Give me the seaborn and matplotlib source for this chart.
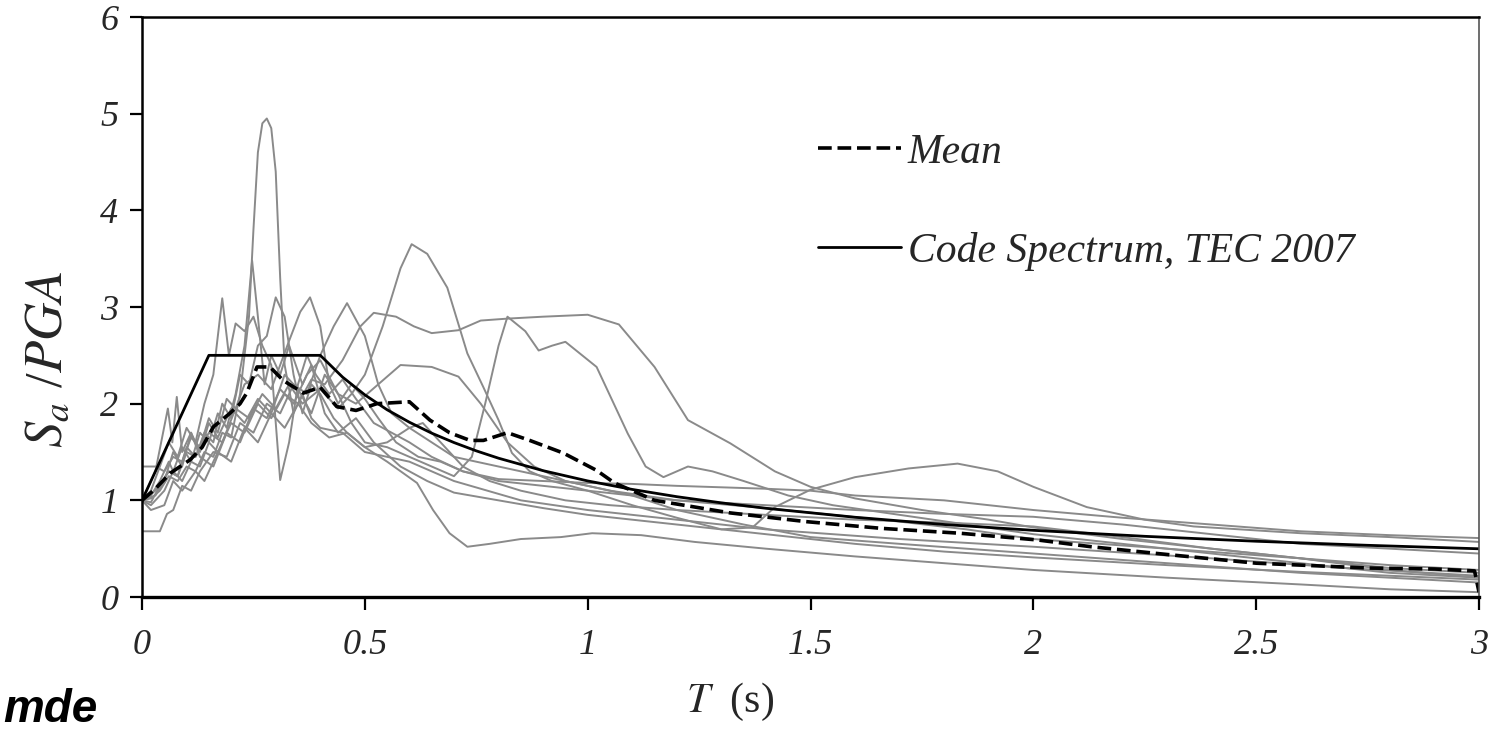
import numpy as np
import pandas as pd
import matplotlib
matplotlib.use("Agg")
import matplotlib.pyplot as plt
from matplotlib.lines import Line2D
import seaborn as sns

# ---------------- data ----------------
rec01 = [(0, 1.0), (0.02, 1.02), (0.04, 1.1), (0.06, 1.25), (0.08, 1.2), (0.10, 1.35), (0.12, 1.3),
         (0.14, 1.5), (0.16, 1.45), (0.18, 1.7), (0.20, 1.65), (0.22, 2.1), (0.24, 2.9), (0.25, 3.8),
         (0.26, 4.6), (0.27, 4.9), (0.28, 4.95), (0.29, 4.85), (0.30, 4.4), (0.31, 3.3), (0.32, 2.4),
         (0.34, 1.9), (0.36, 2.1), (0.38, 1.85), (0.40, 1.75), (0.45, 1.7), (0.5, 1.5), (0.6, 1.4),
         (0.7, 1.2), (0.85, 1.0), (1.0, 0.9), (1.2, 0.8), (1.4, 0.7), (1.7, 0.6), (2.0, 0.52),
         (2.4, 0.4), (2.7, 0.3), (3.0, 0.22)]
rec02 = [(0, 1.0), (0.02, 1.05), (0.04, 1.2), (0.06, 1.4), (0.07, 1.3), (0.09, 1.55), (0.11, 1.4),
         (0.13, 1.7), (0.15, 1.6), (0.17, 1.9), (0.19, 1.75), (0.21, 2.1), (0.23, 2.6), (0.247, 3.48),
         (0.26, 2.9), (0.275, 2.2), (0.29, 2.5), (0.31, 2.3), (0.33, 2.6), (0.36, 2.2), (0.38, 2.4),
         (0.41, 1.9), (0.44, 1.7), (0.48, 1.85), (0.52, 1.6), (0.58, 1.35), (0.64, 1.2), (0.7, 1.08),
         (0.8, 1.0), (0.9, 0.92), (1.0, 0.85), (1.2, 0.75), (1.4, 0.65), (1.6, 0.55), (1.8, 0.47),
         (2.0, 0.41), (2.3, 0.33), (2.6, 0.26), (3.0, 0.18)]
rec03 = [(0, 1.0), (0.02, 1.1), (0.04, 1.35), (0.06, 1.6), (0.08, 1.45), (0.10, 1.75), (0.12, 1.6),
         (0.14, 2.0), (0.16, 2.3), (0.18, 3.09), (0.195, 2.5), (0.21, 2.83), (0.23, 2.75), (0.25, 2.9),
         (0.27, 2.6), (0.29, 2.4), (0.31, 1.21), (0.33, 1.6), (0.35, 2.2), (0.37, 2.5), (0.39, 2.3),
         (0.42, 2.1), (0.45, 2.25), (0.48, 2.05), (0.52, 1.8), (0.56, 1.7), (0.6, 1.6), (0.65, 1.45),
         (0.72, 1.3), (0.8, 1.22), (0.9, 1.2), (1.0, 1.18), (1.1, 1.17), (1.2, 1.15), (1.4, 1.12),
         (1.5, 1.1), (1.6, 1.05), (1.8, 1.0), (2.0, 0.9), (2.2, 0.82), (2.4, 0.75), (2.6, 0.68),
         (2.8, 0.64), (3.0, 0.61)]
rec04 = [(0, 1.0), (0.02, 0.98), (0.04, 1.15), (0.06, 1.3), (0.08, 1.25), (0.10, 1.5), (0.12, 1.45),
         (0.14, 1.7), (0.16, 1.6), (0.18, 2.0), (0.20, 1.85), (0.22, 2.3), (0.24, 2.2), (0.26, 2.6),
         (0.28, 2.7), (0.30, 3.1), (0.32, 2.9), (0.34, 2.3), (0.36, 1.9), (0.38, 2.2), (0.40, 2.1),
         (0.43, 1.85), (0.46, 1.7), (0.5, 1.55), (0.55, 1.6), (0.6, 1.75), (0.63, 1.8), (0.67, 1.6),
         (0.72, 1.35), (0.78, 1.2), (0.85, 1.1), (0.95, 1.0), (1.05, 0.95), (1.2, 0.9), (1.4, 0.85),
         (1.6, 0.8), (1.8, 0.77), (2.0, 0.73), (2.2, 0.62), (2.4, 0.5), (2.6, 0.4), (2.8, 0.33),
         (3.0, 0.28)]
rec05 = [(0, 1.35), (0.03, 1.35), (0.05, 1.3), (0.07, 1.45), (0.09, 1.4), (0.11, 1.65), (0.13, 1.55),
         (0.15, 1.85), (0.17, 1.7), (0.19, 2.05), (0.21, 1.95), (0.23, 2.2), (0.26, 2.3), (0.29, 2.15),
         (0.31, 2.4), (0.33, 2.65), (0.355, 2.95), (0.377, 3.1), (0.40, 2.8), (0.42, 2.2), (0.44, 2.0),
         (0.47, 2.2), (0.5, 2.05), (0.53, 1.85), (0.57, 1.6), (0.62, 1.45), (0.67, 1.4), (0.72, 1.3),
         (0.8, 1.2), (0.9, 1.15), (1.0, 1.1), (1.1, 1.05), (1.2, 1.0), (1.4, 0.95), (1.6, 0.9),
         (1.8, 0.86), (2.0, 0.83), (2.2, 0.75), (2.4, 0.65), (2.6, 0.55), (2.8, 0.5), (3.0, 0.45)]
rec06 = [(0, 0.68), (0.04, 0.68), (0.056, 0.86), (0.07, 0.9), (0.09, 1.15), (0.11, 1.1), (0.13, 1.3),
         (0.16, 1.5), (0.19, 1.45), (0.22, 1.8), (0.25, 1.7), (0.28, 2.0), (0.31, 1.9), (0.34, 2.2),
         (0.37, 2.1), (0.40, 2.5), (0.43, 2.8), (0.46, 3.04), (0.5, 2.7), (0.53, 2.2), (0.56, 1.9),
         (0.6, 1.75), (0.65, 1.6), (0.7, 1.45), (0.75, 1.4), (0.8, 1.35), (0.9, 1.25), (1.0, 1.15),
         (1.1, 1.05), (1.2, 0.9), (1.35, 0.75), (1.5, 0.62), (1.7, 0.55), (2.0, 0.45), (2.3, 0.35),
         (2.6, 0.25), (3.0, 0.15)]
rec07 = [(0, 1.0), (0.03, 1.1), (0.06, 1.3), (0.08, 1.25), (0.10, 1.55), (0.12, 1.45), (0.15, 1.7),
         (0.18, 1.6), (0.21, 1.95), (0.24, 1.85), (0.27, 2.1), (0.30, 1.95), (0.33, 2.2), (0.36, 2.0),
         (0.40, 2.15), (0.44, 1.95), (0.47, 2.1), (0.5, 2.3), (0.54, 2.8), (0.58, 3.4), (0.605, 3.65),
         (0.64, 3.55), (0.685, 3.2), (0.73, 2.52), (0.766, 2.17), (0.8, 1.83), (0.83, 1.49),
         (0.87, 1.3), (0.92, 1.2), (1.0, 1.1), (1.1, 0.95), (1.2, 0.82), (1.3, 0.7), (1.37, 0.72),
         (1.42, 0.93), (1.5, 1.11), (1.6, 1.24), (1.72, 1.33), (1.83, 1.38), (1.92, 1.3), (2.0, 1.14),
         (2.12, 0.93), (2.25, 0.8), (2.36, 0.73), (2.6, 0.66), (2.8, 0.62), (3.0, 0.57)]
rec08 = [(0, 1.0), (0.02, 0.95), (0.05, 1.1), (0.07, 1.3), (0.09, 1.2), (0.11, 1.4), (0.13, 1.35),
         (0.15, 1.6), (0.17, 1.5), (0.20, 1.8), (0.23, 1.7), (0.26, 2.0), (0.29, 1.85), (0.32, 2.1),
         (0.35, 2.0), (0.38, 2.25), (0.41, 2.2), (0.45, 2.45), (0.49, 2.8), (0.52, 2.94), (0.57, 2.9),
         (0.61, 2.8), (0.65, 2.73), (0.71, 2.76), (0.76, 2.86), (0.82, 2.88), (0.9, 2.9), (1.0, 2.92),
         (1.07, 2.82), (1.15, 2.38), (1.225, 1.83), (1.32, 1.59), (1.42, 1.3), (1.5, 1.14),
         (1.6, 1.02), (1.75, 0.9), (1.9, 0.8), (2.0, 0.72), (2.2, 0.6), (2.4, 0.5), (2.6, 0.4),
         (2.8, 0.28), (3.0, 0.2)]
rec09 = [(0, 1.0), (0.03, 1.05), (0.05, 1.2), (0.07, 1.5), (0.09, 1.35), (0.11, 1.7), (0.13, 1.5),
         (0.15, 1.8), (0.17, 1.65), (0.20, 1.95), (0.23, 1.8), (0.26, 2.05), (0.29, 1.9), (0.32, 2.3),
         (0.35, 2.15), (0.38, 1.9), (0.41, 2.3), (0.44, 2.1), (0.47, 1.8), (0.5, 1.6), (0.55, 1.55),
         (0.6, 1.45), (0.65, 1.35), (0.7, 1.25), (0.74, 1.45), (0.77, 2.0), (0.8, 2.6), (0.82, 2.9),
         (0.86, 2.75), (0.89, 2.55), (0.92, 2.6), (0.95, 2.64), (1.02, 2.38), (1.09, 1.69),
         (1.13, 1.35), (1.17, 1.24), (1.225, 1.35), (1.28, 1.3), (1.35, 1.2), (1.45, 1.05),
         (1.55, 0.95), (1.7, 0.85), (1.85, 0.75), (2.0, 0.65), (2.2, 0.55), (2.4, 0.45), (2.6, 0.35),
         (2.8, 0.25), (3.0, 0.2)]
rec10 = [(0, 1.0), (0.02, 0.9), (0.05, 0.95), (0.07, 1.2), (0.09, 1.1), (0.12, 1.3), (0.14, 1.2),
         (0.17, 1.5), (0.20, 1.4), (0.23, 1.75), (0.26, 1.6), (0.29, 1.9), (0.32, 1.75), (0.35, 2.0),
         (0.38, 1.8), (0.42, 1.65), (0.46, 1.7), (0.5, 1.55), (0.55, 1.4), (0.617, 1.18), (0.653, 0.9),
         (0.69, 0.66), (0.73, 0.52), (0.78, 0.55), (0.85, 0.6), (0.94, 0.62), (1.01, 0.66),
         (1.12, 0.64), (1.24, 0.57), (1.4, 0.5), (1.6, 0.42), (1.8, 0.35), (2.0, 0.28), (2.3, 0.2),
         (2.6, 0.13), (2.8, 0.08), (3.0, 0.05)]
rec11 = [(0, 1.0), (0.03, 1.3), (0.058, 1.95), (0.068, 1.6), (0.078, 2.07), (0.09, 1.5), (0.11, 1.7),
         (0.13, 1.45), (0.16, 1.35), (0.19, 1.7), (0.22, 1.6), (0.25, 1.95), (0.28, 1.85), (0.31, 2.15),
         (0.34, 2.0), (0.37, 2.3), (0.40, 2.45), (0.44, 2.1), (0.48, 2.0), (0.53, 2.2), (0.58, 2.4),
         (0.65, 2.38), (0.71, 2.28), (0.76, 2.0), (0.82, 1.6), (0.88, 1.35), (0.95, 1.2), (1.05, 1.1),
         (1.2, 1.0), (1.4, 0.92), (1.55, 0.85), (1.7, 0.78), (1.85, 0.7), (2.0, 0.6), (2.3, 0.5),
         (2.6, 0.4), (2.8, 0.3), (3.0, 0.25)]

mean_curve = [(0, 1.0), (0.03, 1.12), (0.063, 1.28), (0.108, 1.42), (0.135, 1.55), (0.16, 1.76),
              (0.197, 1.9), (0.22, 2.0), (0.235, 2.11), (0.258, 2.38), (0.287, 2.38), (0.317, 2.24),
              (0.362, 2.11), (0.40, 2.17), (0.437, 1.97), (0.48, 1.93), (0.527, 2.0), (0.60, 2.02),
              (0.646, 1.83), (0.69, 1.70), (0.736, 1.62), (0.766, 1.62), (0.82, 1.70), (0.87, 1.62),
              (0.945, 1.49), (1.02, 1.31), (1.06, 1.18), (1.095, 1.11), (1.15, 1.0), (1.32, 0.87),
              (1.49, 0.78), (1.66, 0.71), (1.835, 0.66), (2.01, 0.59), (2.13, 0.52), (2.3, 0.44),
              (2.5, 0.35), (2.75, 0.3), (2.9, 0.29), (2.99, 0.27), (3.0, 0.05)]

code_T = [0, 0.15, 0.40, 0.45, 0.5, 0.55, 0.6, 0.65, 0.7, 0.75, 0.8, 0.9, 1.0, 1.1, 1.2, 1.3, 1.4,
          1.6, 1.8, 2.0, 2.25, 2.5, 2.75, 3.0]
code_S = [1.0, 2.5, 2.5, 2.275, 2.091, 1.937, 1.808, 1.695, 1.598, 1.512, 1.436, 1.307, 1.201,
          1.113, 1.038, 0.974, 0.918, 0.825, 0.750, 0.690, 0.628, 0.577, 0.535, 0.499]

x_ticks = [0, 0.5, 1, 1.5, 2, 2.5, 3]
x_tick_labels = ["0", "0.5", "1", "1.5", "2", "2.5", "3"]
y_ticks = [0, 1, 2, 3, 4, 5, 6]
y_tick_labels = ["0", "1", "2", "3", "4", "5", "6"]
legend_labels = ["Mean", "Code Spectrum, TEC 2007"]

# ---------------- build tables ----------------
records = [rec01, rec02, rec03, rec04, rec05, rec06, rec07, rec08, rec09, rec10, rec11]
rows = []
for i, rec in enumerate(records):
    for k, (t, s) in enumerate(rec):
        rows.append({"rec": i, "order": k, "T": t, "S": s})
df_rec = pd.DataFrame(rows)
df_mean = pd.DataFrame(mean_curve, columns=["T", "S"])
df_code = pd.DataFrame({"T": code_T, "S": code_S})

# ---------------- style ----------------
sns.set_theme(style="white")
plt.rcParams["font.family"] = ["Liberation Serif", "DejaVu Serif"]
plt.rcParams["mathtext.fontset"] = "stix"

fig = plt.figure(figsize=(14.95, 7.46), dpi=100)
ax = fig.add_axes([0.0950, 0.1997, 0.8943, 0.7775])

gray = "#8a8a8a"
sns.lineplot(data=df_rec, x="T", y="S", units="rec", estimator=None, sort=False,
             color=gray, linewidth=1.4, ax=ax, legend=False)
sns.lineplot(data=df_code, x="T", y="S", sort=False, color="black", linewidth=2.0,
             ax=ax, legend=False)
sns.lineplot(data=df_mean, x="T", y="S", sort=False, color="black", linewidth=2.6,
             linestyle=(0, (3.8, 1.6)), ax=ax, legend=False)

ax.set_xlim(0, 3)
ax.set_ylim(0, 6)
ax.set_xticks(x_ticks)
ax.set_xticklabels(x_tick_labels, fontsize=26, fontstyle="italic")
ax.set_yticks(y_ticks)
ax.set_yticklabels(y_tick_labels, fontsize=26, fontstyle="italic")
ax.tick_params(axis="both", direction="out", length=9, width=1.6, color="black",
               bottom=True, left=True, top=False, right=False)
ax.tick_params(axis="x", pad=14)
ax.tick_params(axis="y", pad=8)

for side in ["left", "top", "bottom"]:
    ax.spines[side].set_color("black")
    ax.spines[side].set_linewidth(1.8)
ax.spines["bottom"].set_linewidth(2.4)
ax.spines["right"].set_color("#555555")
ax.spines["right"].set_linewidth(1.2)

ax.set_xlabel(r"$T$  (s)", fontsize=30)
ax.xaxis.set_label_coords(0.44, -0.145)
ax.set_ylabel(r"$S_a$ /$PGA$", fontsize=38)
ax.yaxis.set_label_coords(-0.052, 0.41)

handles = [Line2D([], [], color="black", linewidth=2.6, linestyle=(0, (3.8, 1.6))),
           Line2D([], [], color="black", linewidth=2.0)]
leg = ax.legend(handles, legend_labels, loc="upper left", bbox_to_anchor=(0.5056, 0.80),
                frameon=False, borderpad=0, borderaxespad=0, handlelength=2.0,
                handletextpad=0.15, labelspacing=1.45,
                prop={"family": "Liberation Serif", "style": "italic", "size": 30})

fig.text(0.002, 0.032, "mde", fontsize=33, fontweight="bold", fontstyle="italic",
         family="Liberation Sans", color="black")

fig.savefig("out.png", dpi=100)
